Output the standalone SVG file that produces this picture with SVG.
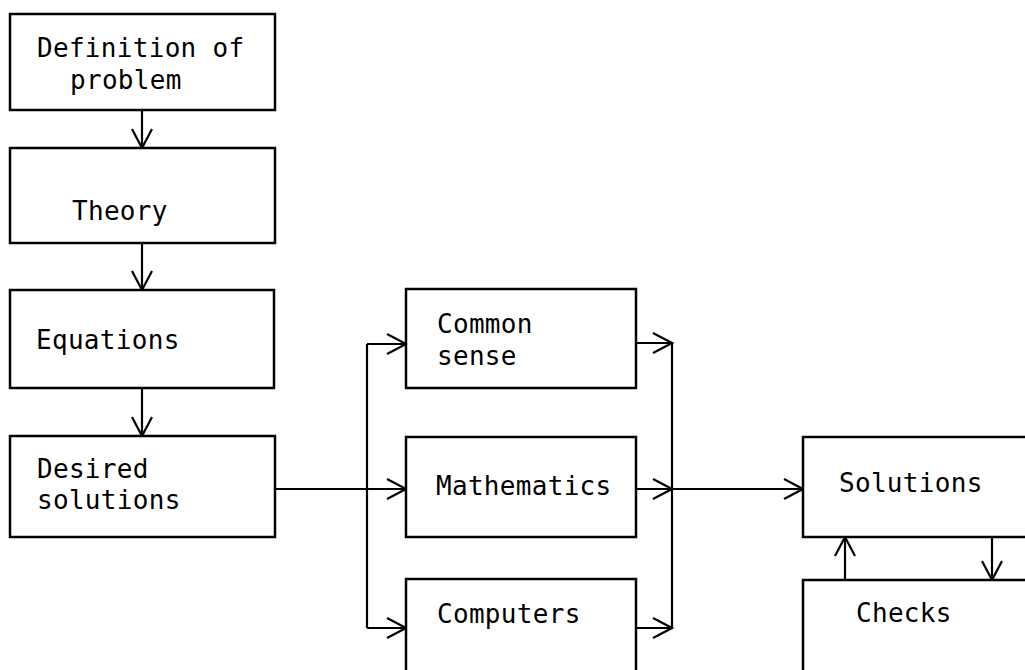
<svg xmlns="http://www.w3.org/2000/svg" width="1025" height="670" viewBox="0 0 1025 670">
<style>
.box{fill:#fff;stroke:#000;stroke-width:2.5}
.ln{fill:none;stroke:#000;stroke-width:2.2}
.t{font-family:"DejaVu Sans Mono","Liberation Mono",monospace;font-size:26px;letter-spacing:0.3px;fill:#000}
</style>
<defs>
<marker id="ah" markerUnits="userSpaceOnUse" viewBox="-22 -12 24 24" markerWidth="24" markerHeight="24" refX="0" refY="0" orient="auto">
<path d="M-19,-10 L0,0 L-19,10" fill="none" stroke="#000" stroke-width="2.2"/>
</marker>
</defs>
<rect width="1025" height="670" fill="#fff"/>
<g id="connectors">
<line class="ln" x1="142" y1="110" x2="142" y2="148" marker-end="url(#ah)"/>
<line class="ln" x1="142" y1="243" x2="142" y2="290" marker-end="url(#ah)"/>
<line class="ln" x1="142" y1="388" x2="142" y2="436" marker-end="url(#ah)"/>
<line class="ln" x1="275" y1="489" x2="406" y2="489" marker-end="url(#ah)"/>
<line class="ln" x1="367" y1="344" x2="367" y2="628"/>
<line class="ln" x1="367" y1="344" x2="406" y2="344" marker-end="url(#ah)"/>
<line class="ln" x1="367" y1="628" x2="406" y2="628" marker-end="url(#ah)"/>
<line class="ln" x1="636" y1="343" x2="672" y2="343" marker-end="url(#ah)"/>
<line class="ln" x1="636" y1="489" x2="672" y2="489" marker-end="url(#ah)"/>
<line class="ln" x1="636" y1="628" x2="672" y2="628" marker-end="url(#ah)"/>
<line class="ln" x1="672" y1="343" x2="672" y2="628"/>
<line class="ln" x1="672" y1="489" x2="803" y2="489" marker-end="url(#ah)"/>
<line class="ln" x1="845" y1="580" x2="845" y2="537" marker-end="url(#ah)"/>
<line class="ln" x1="992" y1="537" x2="992" y2="580" marker-end="url(#ah)"/>
</g>
<g id="definition">
<rect class="box" x="10" y="14" width="265" height="96"/>
<text class="t" x="37" y="57">Definition of</text>
<text class="t" x="70" y="89">problem</text>
</g>
<g id="theory">
<rect class="box" x="10" y="148" width="265" height="95"/>
<text class="t" x="72" y="220">Theory</text>
</g>
<g id="equations">
<rect class="box" x="10" y="290" width="264" height="98"/>
<text class="t" x="36" y="349">Equations</text>
</g>
<g id="desired">
<rect class="box" x="10" y="436" width="265" height="101"/>
<text class="t" x="37" y="478">Desired</text>
<text class="t" x="37" y="509">solutions</text>
</g>
<g id="commonsense">
<rect class="box" x="406" y="289" width="230" height="99"/>
<text class="t" x="437" y="333">Common</text>
<text class="t" x="437" y="365">sense</text>
</g>
<g id="mathematics">
<rect class="box" x="406" y="437" width="230" height="100"/>
<text class="t" x="436" y="495">Mathematics</text>
</g>
<g id="computers">
<rect class="box" x="406" y="579" width="230" height="110"/>
<text class="t" x="437" y="623">Computers</text>
</g>
<g id="solutions">
<rect class="box" x="803" y="437" width="240" height="100"/>
<text class="t" x="839" y="492">Solutions</text>
</g>
<g id="checks">
<rect class="box" x="803" y="580" width="240" height="110"/>
<text class="t" x="856" y="622">Checks</text>
</g>
</svg>
